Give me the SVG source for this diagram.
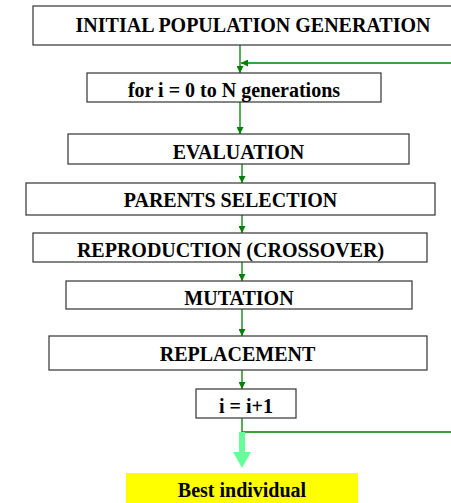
<svg xmlns="http://www.w3.org/2000/svg" width="451" height="503" viewBox="0 0 451 503">
<style>
.box{fill:#fff;stroke:#333;stroke-width:1.2}
.t{font-family:"Liberation Serif","Times New Roman",serif;font-weight:bold;font-size:20px;fill:#000;text-anchor:middle}
.c{fill:none;stroke:#008000;stroke-width:1.3}
</style>
<defs>
<marker id="ah" viewBox="0 0 8 8" refX="8" refY="4" markerWidth="7" markerHeight="7" markerUnits="userSpaceOnUse" orient="auto">
<path d="M0,0 L8,4 L0,8 z" fill="#008000"/>
</marker>
</defs>
<rect width="451" height="503" fill="#fff"/>
<g id="connectors">
<line class="c" x1="240" y1="45" x2="240" y2="73" marker-end="url(#ah)"/>
<line class="c" x1="451" y1="63" x2="241" y2="63" marker-end="url(#ah)"/>
<line class="c" x1="240" y1="102" x2="240" y2="134" marker-end="url(#ah)"/>
<line class="c" x1="242" y1="164" x2="242" y2="183" marker-end="url(#ah)"/>
<line class="c" x1="242" y1="215" x2="242" y2="233" marker-end="url(#ah)"/>
<line class="c" x1="242" y1="262" x2="242" y2="281" marker-end="url(#ah)"/>
<line class="c" x1="242" y1="309" x2="242" y2="336" marker-end="url(#ah)"/>
<line class="c" x1="242" y1="370" x2="242" y2="389" marker-end="url(#ah)"/>
<polyline class="c" points="242,418 242,432 451,432"/>
<path d="M239,432 L245,432 L245,452 L251,452 L242,468 L233,452 L239,452 Z" fill="#66FF99"/>
</g>
<g id="n1"><rect class="box" x="33" y="6" width="440" height="39"/><text class="t" x="253" y="32">INITIAL POPULATION GENERATION</text></g>
<g id="n2"><rect class="box" x="87" y="73" width="294" height="29"/><text class="t" x="234" y="97">for i = 0 to N generations</text></g>
<g id="n3"><rect class="box" x="68" y="134" width="341" height="30"/><text class="t" x="238.5" y="159">EVALUATION</text></g>
<g id="n4"><rect class="box" x="26" y="183" width="409" height="32"/><text class="t" x="230.5" y="207">PARENTS SELECTION</text></g>
<g id="n5"><rect class="box" x="33" y="233" width="394" height="29"/><text class="t" x="230.5" y="257">REPRODUCTION (CROSSOVER)</text></g>
<g id="n6"><rect class="box" x="66" y="281" width="346" height="28"/><text class="t" x="239" y="305">MUTATION</text></g>
<g id="n7"><rect class="box" x="49" y="336" width="378" height="34"/><text class="t" x="237.5" y="361">REPLACEMENT</text></g>
<g id="n8"><rect class="box" x="196" y="389" width="100" height="29"/><text class="t" x="246" y="413">i = i+1</text></g>
<g id="n9"><rect x="126" y="473" width="232" height="32" fill="#FFFF00"/><text class="t" x="242" y="497">Best individual</text></g>
</svg>
